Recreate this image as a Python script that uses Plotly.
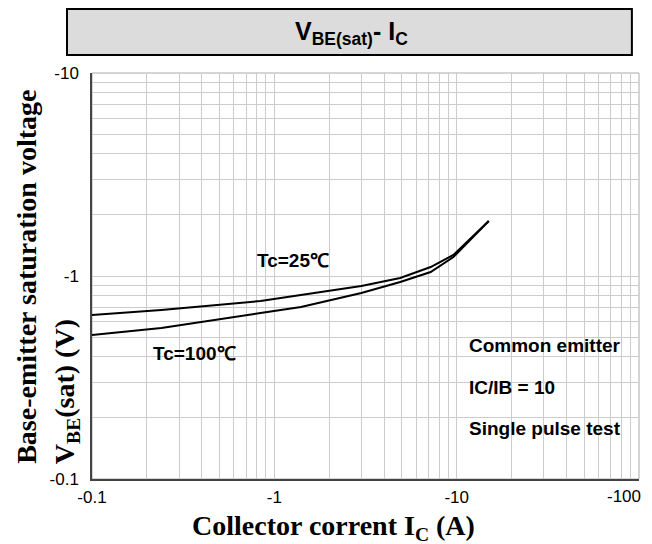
import plotly.graph_objects as go

# Data (collector current A, VBE(sat) V; shown as negative on labels)
ic_25 = [0.1, 0.24, 0.84, 1.4, 3.0, 4.9, 7.2, 9.6, 15.0]
vbe_25 = [0.643, 0.680, 0.753, 0.806, 0.893, 0.978, 1.107, 1.269, 1.866]
ic_100 = [0.1, 0.24, 0.84, 1.4, 3.0, 4.9, 7.2, 9.6, 15.0]
vbe_100 = [0.512, 0.554, 0.657, 0.704, 0.825, 0.934, 1.046, 1.24, 1.866]

x_grid = [m * 10 ** e for e in (-1, 0, 1) for m in range(1, 10)] + [100]
x_labels = {0.1: "-0.1", 1: "-1", 10: "-10"}
last_x_label = "-100"
y_grid = [m * 10 ** e for e in (-1, 0) for m in range(1, 10)] + [10]
y_labels = {0.1: "-0.1", 1: "-1", 10: "-10"}

fig = go.Figure()
fig.add_trace(go.Scatter(x=ic_25, y=vbe_25, mode="lines", line=dict(color="black", width=2), name="Tc=25℃"))
fig.add_trace(go.Scatter(x=ic_100, y=vbe_100, mode="lines", line=dict(color="black", width=2), name="Tc=100℃"))

tickfont = dict(family="Liberation Sans, Arial", size=17, color="black")
fig.update_xaxes(type="log", range=[-1, 2], tickvals=x_grid,
                 ticktext=[x_labels.get(round(v, 3), "") for v in x_grid],
                 showgrid=True, gridcolor="#cccccc", gridwidth=1,
                 showline=True, linecolor="#444444", linewidth=1.5, mirror=False,
                 ticks="", zeroline=False, tickfont=tickfont, ticklabelstandoff=2,
                 ticklabeloverflow="allow", automargin=False)
fig.update_yaxes(type="log", range=[-1, 1], tickvals=y_grid,
                 ticktext=[y_labels.get(round(v, 3), "") for v in y_grid],
                 showgrid=True, gridcolor="#cccccc", gridwidth=1,
                 showline=True, linecolor="#444444", linewidth=1.5, mirror=False,
                 ticks="", zeroline=False, tickfont=tickfont, ticklabelstandoff=8,
                 ticklabeloverflow="allow", automargin=False)

shapes = [
    dict(type="rect", xref="paper", yref="paper", x0=0, x1=1, y0=0, y1=1,
         line=dict(color="#aaaaaa", width=1), layer="below"),
    dict(type="rect", xref="paper", yref="paper", x0=-0.0457, x1=0.987, y0=1.0443, y1=1.1576,
         fillcolor="#dcdcdc", line=dict(color="black", width=2)),
]

bold_sans = dict(family="Liberation Sans, Arial", size=19, color="black")
serif = dict(family="Liberation Serif, Times New Roman", size=28, color="black")
ann = [
    dict(x=0.4735, y=1.099, text="<b>V<sub>BE(sat)</sub>- I<sub>C</sub></b>",
         font=dict(family="Liberation Sans, Arial", size=25, color="black")),
    dict(x=0.3675, y=0.539, text="<b>Tc=25℃</b>", font=bold_sans),
    dict(x=0.188, y=0.310, text="<b>Tc=100℃</b>", font=bold_sans),
    dict(x=0.6856, y=0.330, text="<b>Common emitter</b>", font=bold_sans, xanchor="left"),
    dict(x=0.6856, y=0.2266, text="<b>IC/IB = 10</b>", font=bold_sans, xanchor="left"),
    dict(x=0.6856, y=0.1256, text="<b>Single pulse test</b>", font=bold_sans, xanchor="left"),
    dict(x=-0.121, y=0.4975, text="<b>Base-emitter saturation voltage</b>", font=serif, textangle=-90),
    dict(x=-0.0475, y=0.214, text="<b>V<sub>BE</sub>(sat) (V)</b>", font=serif, textangle=-90),
    dict(x=0.4424, y=-0.119, text="<b>Collector corrent I<sub>C</sub> (A)</b>", font=serif),
    dict(x=1.0073, y=-0.044, text=last_x_label, font=tickfont, xanchor="right"),
]
for a in ann:
    a.setdefault("xanchor", "center")
    a.update(xref="paper", yref="paper", showarrow=False, yanchor="middle")

# page body has an 8px default margin, so the figure is 8px smaller and margins shifted
fig.update_layout(width=644, height=536, margin=dict(l=84, r=13, t=65, b=65, autoexpand=False),
                  plot_bgcolor="white", paper_bgcolor="white", showlegend=False,
                  shapes=shapes, annotations=ann)
fig.write_html("out.html")
